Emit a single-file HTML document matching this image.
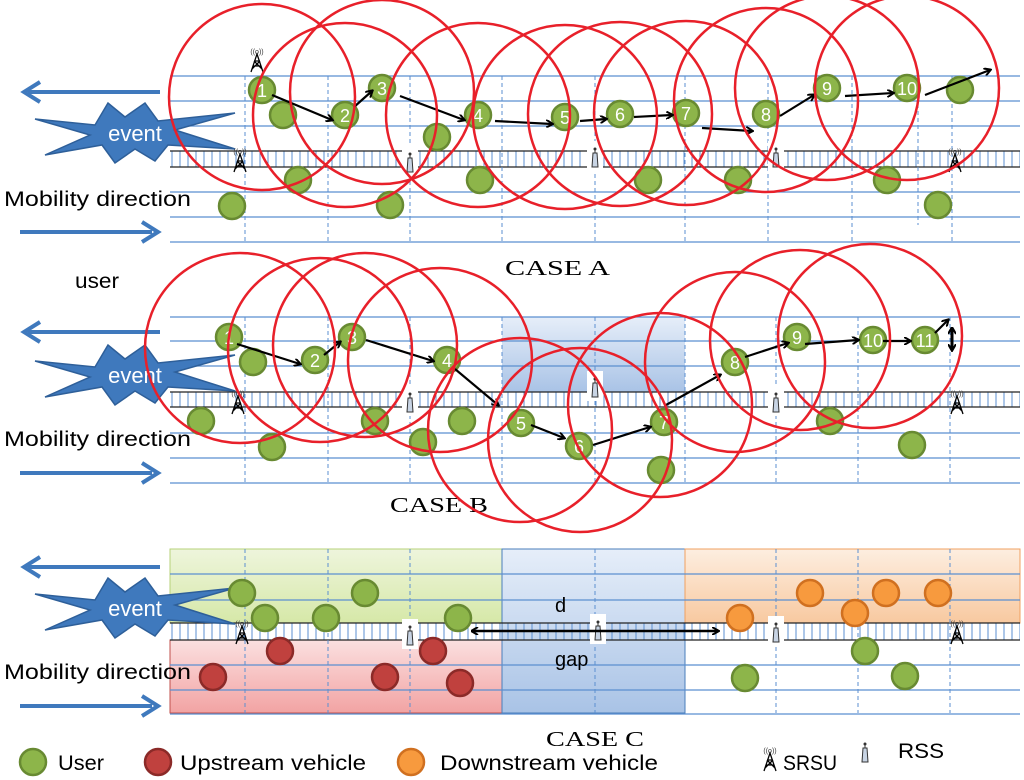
<!DOCTYPE html>
<html><head><meta charset="utf-8"><style>
html,body{margin:0;padding:0;background:#fff;}
svg{display:block;}
text{font-family:"Liberation Sans",sans-serif;}
text.serif{font-family:"Liberation Serif",serif;}
</style></head><body>
<svg width="1024" height="780" viewBox="0 0 1024 780" xmlns="http://www.w3.org/2000/svg">
<defs>
<pattern id="tk" x="0" y="0" width="8" height="20" patternUnits="userSpaceOnUse"><line x1="4" y1="0" x2="4" y2="20" stroke="#5b8fd0" stroke-width="1"/></pattern>
<linearGradient id="gg" x1="0" y1="0" x2="0" y2="1"><stop offset="0" stop-color="#eef5dc"/><stop offset="1" stop-color="#d6e8a8"/></linearGradient>
<linearGradient id="gr" x1="0" y1="0" x2="0" y2="1"><stop offset="0" stop-color="#fbe0e0"/><stop offset="1" stop-color="#f2a3a3"/></linearGradient>
<linearGradient id="gb" x1="0" y1="0" x2="0" y2="1"><stop offset="0" stop-color="#e6eef9"/><stop offset="1" stop-color="#a9c3e6"/></linearGradient>
<linearGradient id="go" x1="0" y1="0" x2="0" y2="1"><stop offset="0" stop-color="#fdeee0"/><stop offset="1" stop-color="#f8c9a0"/></linearGradient>
<marker id="ah" markerWidth="8" markerHeight="8" refX="6" refY="4" orient="auto" markerUnits="userSpaceOnUse"><path d="M0,0 L7,4 L0,8" fill="none" stroke="#000" stroke-width="2"/></marker>
<marker id="ahs" markerWidth="8" markerHeight="8" refX="1" refY="4" orient="auto" markerUnits="userSpaceOnUse"><path d="M7,0 L0,4 L7,8" fill="none" stroke="#000" stroke-width="2"/></marker>
<g id="rss"><rect x="-8" y="-14" width="16" height="30" fill="#fff"/><path d="M-3,12 L-2,-2 L2,-2 L3,12 Z" fill="#c8d4e4" stroke="#333" stroke-width="1"/><circle cx="0" cy="-6" r="1.5" fill="#333"/><line x1="0" y1="-6" x2="0" y2="-2" stroke="#333"/></g>
<g id="srsu"><path d="M-6,14 L0,-4 L6,14 M-4,8 L4,8 M-3,3 L3,3 M-5,11 L3,3 M5,11 L-3,3" fill="none" stroke="#000" stroke-width="1.3"/><text x="0" y="-4" font-size="7" text-anchor="middle" fill="#333">((o))</text></g>
<polygon id="burst" points="-95,-14 -35,-8 -22,-30 -5,-16 15,-30 28,-12 105,-20 45,-3 105,16 38,12 25,28 5,16 -15,30 -28,12 -85,22 -40,2" fill="#3f79bd" stroke="#2e5f99" stroke-width="1.5"/>
</defs>

<!-- ===== CASE A ===== -->
<g stroke="#5b8fd0" stroke-width="1.2">
<line x1="170" y1="76" x2="1020" y2="76"/><line x1="170" y1="101" x2="1020" y2="101"/><line x1="170" y1="126" x2="1020" y2="126"/>
<line x1="170" y1="192" x2="1020" y2="192"/><line x1="170" y1="217" x2="1020" y2="217"/><line x1="170" y1="242" x2="1020" y2="242"/>
</g>
<rect x="170" y="151" width="850" height="16" fill="url(#tk)"/>
<line x1="170" y1="151" x2="1020" y2="151" stroke="#222" stroke-width="1.2"/><line x1="170" y1="167" x2="1020" y2="167" stroke="#222" stroke-width="1.2"/>
<g stroke="#5b8fd0" stroke-dasharray="4,3"><line x1="245" y1="76" x2="245" y2="242"/><line x1="328" y1="76" x2="328" y2="242"/><line x1="410" y1="76" x2="410" y2="242"/><line x1="502" y1="76" x2="502" y2="242"/><line x1="595" y1="76" x2="595" y2="242"/><line x1="685" y1="76" x2="685" y2="242"/><line x1="768" y1="76" x2="768" y2="242"/><line x1="852" y1="76" x2="852" y2="242"/><line x1="918" y1="76" x2="918" y2="225"/><line x1="952" y1="76" x2="952" y2="242"/></g>

<!-- ===== CASE B ===== -->
<rect x="502" y="317" width="183" height="75" fill="url(#gb)"/>
<g stroke="#5b8fd0" stroke-width="1.2">
<line x1="170" y1="317" x2="1020" y2="317"/><line x1="170" y1="341" x2="1020" y2="341"/><line x1="170" y1="366" x2="1020" y2="366"/>
<line x1="170" y1="433" x2="1020" y2="433"/><line x1="170" y1="458" x2="1020" y2="458"/><line x1="170" y1="483" x2="1020" y2="483"/>
</g>
<rect x="170" y="392" width="850" height="15" fill="url(#tk)"/>
<line x1="170" y1="392" x2="1020" y2="392" stroke="#222" stroke-width="1.2"/><line x1="170" y1="407" x2="1020" y2="407" stroke="#222" stroke-width="1.2"/>
<g stroke="#5b8fd0" stroke-dasharray="4,3"><line x1="245" y1="317" x2="245" y2="483"/><line x1="328" y1="317" x2="328" y2="483"/><line x1="410" y1="317" x2="410" y2="483"/><line x1="502" y1="317" x2="502" y2="483"/><line x1="595" y1="317" x2="595" y2="483"/><line x1="685" y1="317" x2="685" y2="483"/><line x1="776" y1="317" x2="776" y2="483"/><line x1="858" y1="317" x2="858" y2="483"/><line x1="950" y1="317" x2="950" y2="483"/></g>

<!-- ===== CASE C ===== -->
<rect x="170" y="549" width="332" height="74" fill="url(#gg)" stroke="#b7d27a"/>
<rect x="170" y="640" width="332" height="73" fill="url(#gr)" stroke="#c0504d"/>
<rect x="502" y="549" width="183" height="164" fill="url(#gb)" stroke="#4a7ebb"/>
<rect x="685" y="549" width="335" height="74" fill="url(#go)" stroke="#f0a060"/>
<g stroke="#5b8fd0" stroke-width="1.2">
<line x1="170" y1="574" x2="1020" y2="574"/><line x1="170" y1="600" x2="1020" y2="600"/>
<line x1="170" y1="665" x2="1020" y2="665"/><line x1="170" y1="690" x2="1020" y2="690"/><line x1="170" y1="714" x2="1020" y2="714"/>
</g>
<rect x="170" y="623" width="850" height="17" fill="url(#tk)"/>
<line x1="170" y1="623" x2="1020" y2="623" stroke="#222" stroke-width="1.2"/><line x1="170" y1="640" x2="1020" y2="640" stroke="#222" stroke-width="1.2"/>
<g stroke="#5b8fd0" stroke-dasharray="4,3"><line x1="245" y1="549" x2="245" y2="713"/><line x1="328" y1="549" x2="328" y2="713"/><line x1="410" y1="549" x2="410" y2="713"/><line x1="595" y1="549" x2="595" y2="713"/><line x1="776" y1="549" x2="776" y2="713"/><line x1="858" y1="549" x2="858" y2="713"/><line x1="950" y1="549" x2="950" y2="713"/></g>

<!-- left arrows & text -->
<g stroke="#3f79bd" stroke-width="4" fill="none">
<line x1="160" y1="92" x2="28" y2="92"/><path d="M40,82 L24,92 L40,102"/>
<line x1="20" y1="232" x2="152" y2="232"/><path d="M142,222 L158,232 L142,242"/>
<line x1="160" y1="332" x2="28" y2="332"/><path d="M40,322 L24,332 L40,342"/>
<line x1="20" y1="473" x2="152" y2="473"/><path d="M142,463 L158,473 L142,483"/>
<line x1="160" y1="567" x2="28" y2="567"/><path d="M40,557 L24,567 L40,577"/>
<line x1="20" y1="706" x2="152" y2="706"/><path d="M142,696 L158,706 L142,716"/>
</g>
<use href="#burst" x="130" y="133"/>
<use href="#burst" x="130" y="375"/>
<use href="#burst" x="130" y="608"/>
<g fill="#fff" font-size="22" text-anchor="middle"><text x="135" y="141">event</text><text x="135" y="383">event</text><text x="135" y="616">event</text></g>
<g font-size="21" fill="#000"><text x="4" y="206" textLength="187" lengthAdjust="spacingAndGlyphs">Mobility direction</text><text x="4" y="446" textLength="187" lengthAdjust="spacingAndGlyphs">Mobility direction</text><text x="4" y="679" textLength="187" lengthAdjust="spacingAndGlyphs">Mobility direction</text><text x="75" y="288" textLength="44" lengthAdjust="spacingAndGlyphs">user</text></g>
<g font-size="21" fill="#000"><text class="serif" x="505" y="275" textLength="105" lengthAdjust="spacingAndGlyphs">CASE  A</text><text class="serif" x="390" y="512" textLength="98" lengthAdjust="spacingAndGlyphs">CASE  B</text><text class="serif" x="546" y="746" textLength="98" lengthAdjust="spacingAndGlyphs">CASE  C</text></g>

<!-- icons -->
<use href="#srsu" x="257" y="58"/><use href="#srsu" x="240" y="158"/><use href="#srsu" x="955" y="158"/>
<use href="#srsu" x="238" y="400"/><use href="#srsu" x="957" y="400"/>
<use href="#srsu" x="242" y="630"/><use href="#srsu" x="957" y="630"/>
<use href="#rss" x="410" y="160"/><use href="#rss" x="595" y="155"/><use href="#rss" x="776" y="155"/>
<use href="#rss" x="410" y="400"/><use href="#rss" x="595" y="385"/><use href="#rss" x="776" y="400"/>
<use href="#rss" x="410" y="633"/><use href="#rss" x="598" y="628"/><use href="#rss" x="776" y="630"/>

<!-- green circles -->
<g fill="#8db54a" stroke="#688a32" stroke-width="2.5">
<circle cx="262" cy="90" r="13"/><circle cx="345" cy="115" r="13"/><circle cx="382" cy="88" r="13"/><circle cx="478" cy="115" r="13"/><circle cx="565" cy="117" r="13"/><circle cx="620" cy="114" r="13"/><circle cx="686" cy="113" r="13"/><circle cx="766" cy="114" r="13"/><circle cx="827" cy="88" r="13"/><circle cx="907" cy="88" r="13"/><circle cx="960" cy="90" r="13"/>
<circle cx="283" cy="115" r="13"/><circle cx="437" cy="137" r="13"/><circle cx="298" cy="180" r="13"/><circle cx="232" cy="206" r="13"/><circle cx="390" cy="205" r="13"/><circle cx="480" cy="180" r="13"/><circle cx="648" cy="180" r="13"/><circle cx="738" cy="180" r="13"/><circle cx="887" cy="180" r="13"/><circle cx="938" cy="205" r="13"/>
<circle cx="229" cy="337" r="13"/><circle cx="315" cy="360" r="13"/><circle cx="352" cy="337" r="13"/><circle cx="447" cy="360" r="13"/><circle cx="521" cy="423" r="13"/><circle cx="579" cy="446" r="13"/><circle cx="664" cy="422" r="13"/><circle cx="735" cy="362" r="13"/><circle cx="797" cy="337" r="13"/><circle cx="873" cy="340" r="13"/><circle cx="925" cy="340" r="13"/>
<circle cx="253" cy="362" r="13"/><circle cx="201" cy="421" r="13"/><circle cx="272" cy="447" r="13"/><circle cx="375" cy="421" r="13"/><circle cx="423" cy="442" r="13"/><circle cx="462" cy="421" r="13"/><circle cx="661" cy="470" r="13"/><circle cx="830" cy="421" r="13"/><circle cx="912" cy="445" r="13"/>
<circle cx="242" cy="593" r="13"/><circle cx="365" cy="593" r="13"/><circle cx="265" cy="618" r="13"/><circle cx="326" cy="618" r="13"/><circle cx="458" cy="618" r="13"/><circle cx="745" cy="678" r="13"/><circle cx="865" cy="651" r="13"/><circle cx="905" cy="676" r="13"/>
<circle cx="33" cy="762" r="13"/>
</g>
<g fill="#c0413e" stroke="#8b2a28" stroke-width="2.5">
<circle cx="280" cy="651" r="13"/><circle cx="213" cy="677" r="13"/><circle cx="433" cy="651" r="13"/><circle cx="385" cy="677" r="13"/><circle cx="460" cy="683" r="13"/><circle cx="158" cy="762" r="13"/>
</g>
<g fill="#f79a3e" stroke="#d07020" stroke-width="2.5">
<circle cx="740" cy="618" r="13"/><circle cx="810" cy="593" r="13"/><circle cx="855" cy="613" r="13"/><circle cx="886" cy="593" r="13"/><circle cx="938" cy="593" r="13"/><circle cx="411" cy="762" r="13"/>
</g>

<!-- numbers -->
<g fill="#fff" font-size="18" text-anchor="middle">
<text x="262" y="97">1</text><text x="345" y="122">2</text><text x="382" y="95">3</text><text x="478" y="122">4</text><text x="565" y="124">5</text><text x="620" y="121">6</text><text x="686" y="120">7</text><text x="766" y="121">8</text><text x="827" y="95">9</text><text x="907" y="95">10</text>
<text x="229" y="344">1</text><text x="315" y="367">2</text><text x="352" y="344">3</text><text x="447" y="367">4</text><text x="521" y="430">5</text><text x="579" y="453">6</text><text x="664" y="429">7</text><text x="735" y="369">8</text><text x="797" y="344">9</text><text x="873" y="347">10</text><text x="925" y="347">11</text>
</g>

<!-- black arrows -->
<g stroke="#000" stroke-width="2.2" fill="none" marker-end="url(#ah)">
<line x1="272" y1="95" x2="332" y2="120"/><line x1="354" y1="107" x2="372" y2="91"/><line x1="400" y1="96" x2="464" y2="120"/><line x1="495" y1="121" x2="552" y2="124"/><line x1="580" y1="121" x2="606" y2="119"/><line x1="634" y1="117" x2="672" y2="115"/><line x1="702" y1="128" x2="752" y2="131"/><line x1="780" y1="116" x2="814" y2="95"/><line x1="845" y1="96" x2="893" y2="93"/><line x1="925" y1="95" x2="990" y2="70"/>
<line x1="237" y1="344" x2="300" y2="364"/><line x1="324" y1="355" x2="340" y2="342"/><line x1="366" y1="340" x2="433" y2="361"/><line x1="455" y1="369" x2="498" y2="405"/><line x1="531" y1="425" x2="564" y2="438"/><line x1="593" y1="445" x2="650" y2="427"/><line x1="666" y1="405" x2="720" y2="375"/><line x1="745" y1="357" x2="788" y2="343"/><line x1="805" y1="344" x2="858" y2="340"/><line x1="883" y1="341" x2="910" y2="341"/><line x1="935" y1="333" x2="948" y2="320"/>
</g>
<line x1="952" y1="328" x2="952" y2="350" stroke="#000" stroke-width="3" marker-end="url(#ah)" marker-start="url(#ahs)"/>
<line x1="472" y1="631" x2="718" y2="631" stroke="#000" stroke-width="2.5" marker-end="url(#ah)" marker-start="url(#ahs)"/>
<g font-size="20" fill="#000"><text x="555" y="612">d</text><text x="555" y="666">gap</text></g>

<!-- red circles -->
<g fill="none" stroke="#e8202a" stroke-width="2.5">
<circle cx="262" cy="97" r="93"/><circle cx="345" cy="115" r="92"/><circle cx="382" cy="92" r="92"/><circle cx="478" cy="115" r="92"/><circle cx="565" cy="117" r="92"/><circle cx="620" cy="114" r="92"/><circle cx="686" cy="113" r="92"/><circle cx="766" cy="100" r="92"/><circle cx="827" cy="88" r="92"/><circle cx="907" cy="88" r="92"/>
<circle cx="240" cy="348" r="95"/><circle cx="320" cy="350" r="92"/><circle cx="365" cy="345" r="92"/><circle cx="440" cy="360" r="92"/><circle cx="520" cy="430" r="92"/><circle cx="580" cy="440" r="92"/><circle cx="660" cy="405" r="92"/><circle cx="735" cy="362" r="90"/><circle cx="800" cy="340" r="90"/><circle cx="870" cy="336" r="92"/>
</g>

<!-- legend -->
<g font-size="21" fill="#000"><text x="58" y="770" textLength="46" lengthAdjust="spacingAndGlyphs">User</text><text x="180" y="770" textLength="186" lengthAdjust="spacingAndGlyphs">Upstream vehicle</text><text x="440" y="770" textLength="218" lengthAdjust="spacingAndGlyphs">Downstream vehicle</text><text x="783" y="770" textLength="54" lengthAdjust="spacingAndGlyphs">SRSU</text><text x="898" y="758" textLength="46" lengthAdjust="spacingAndGlyphs">RSS</text></g>
<use href="#srsu" x="770" y="757"/>
<use href="#rss" x="865" y="750"/>
</svg>
</body></html>
